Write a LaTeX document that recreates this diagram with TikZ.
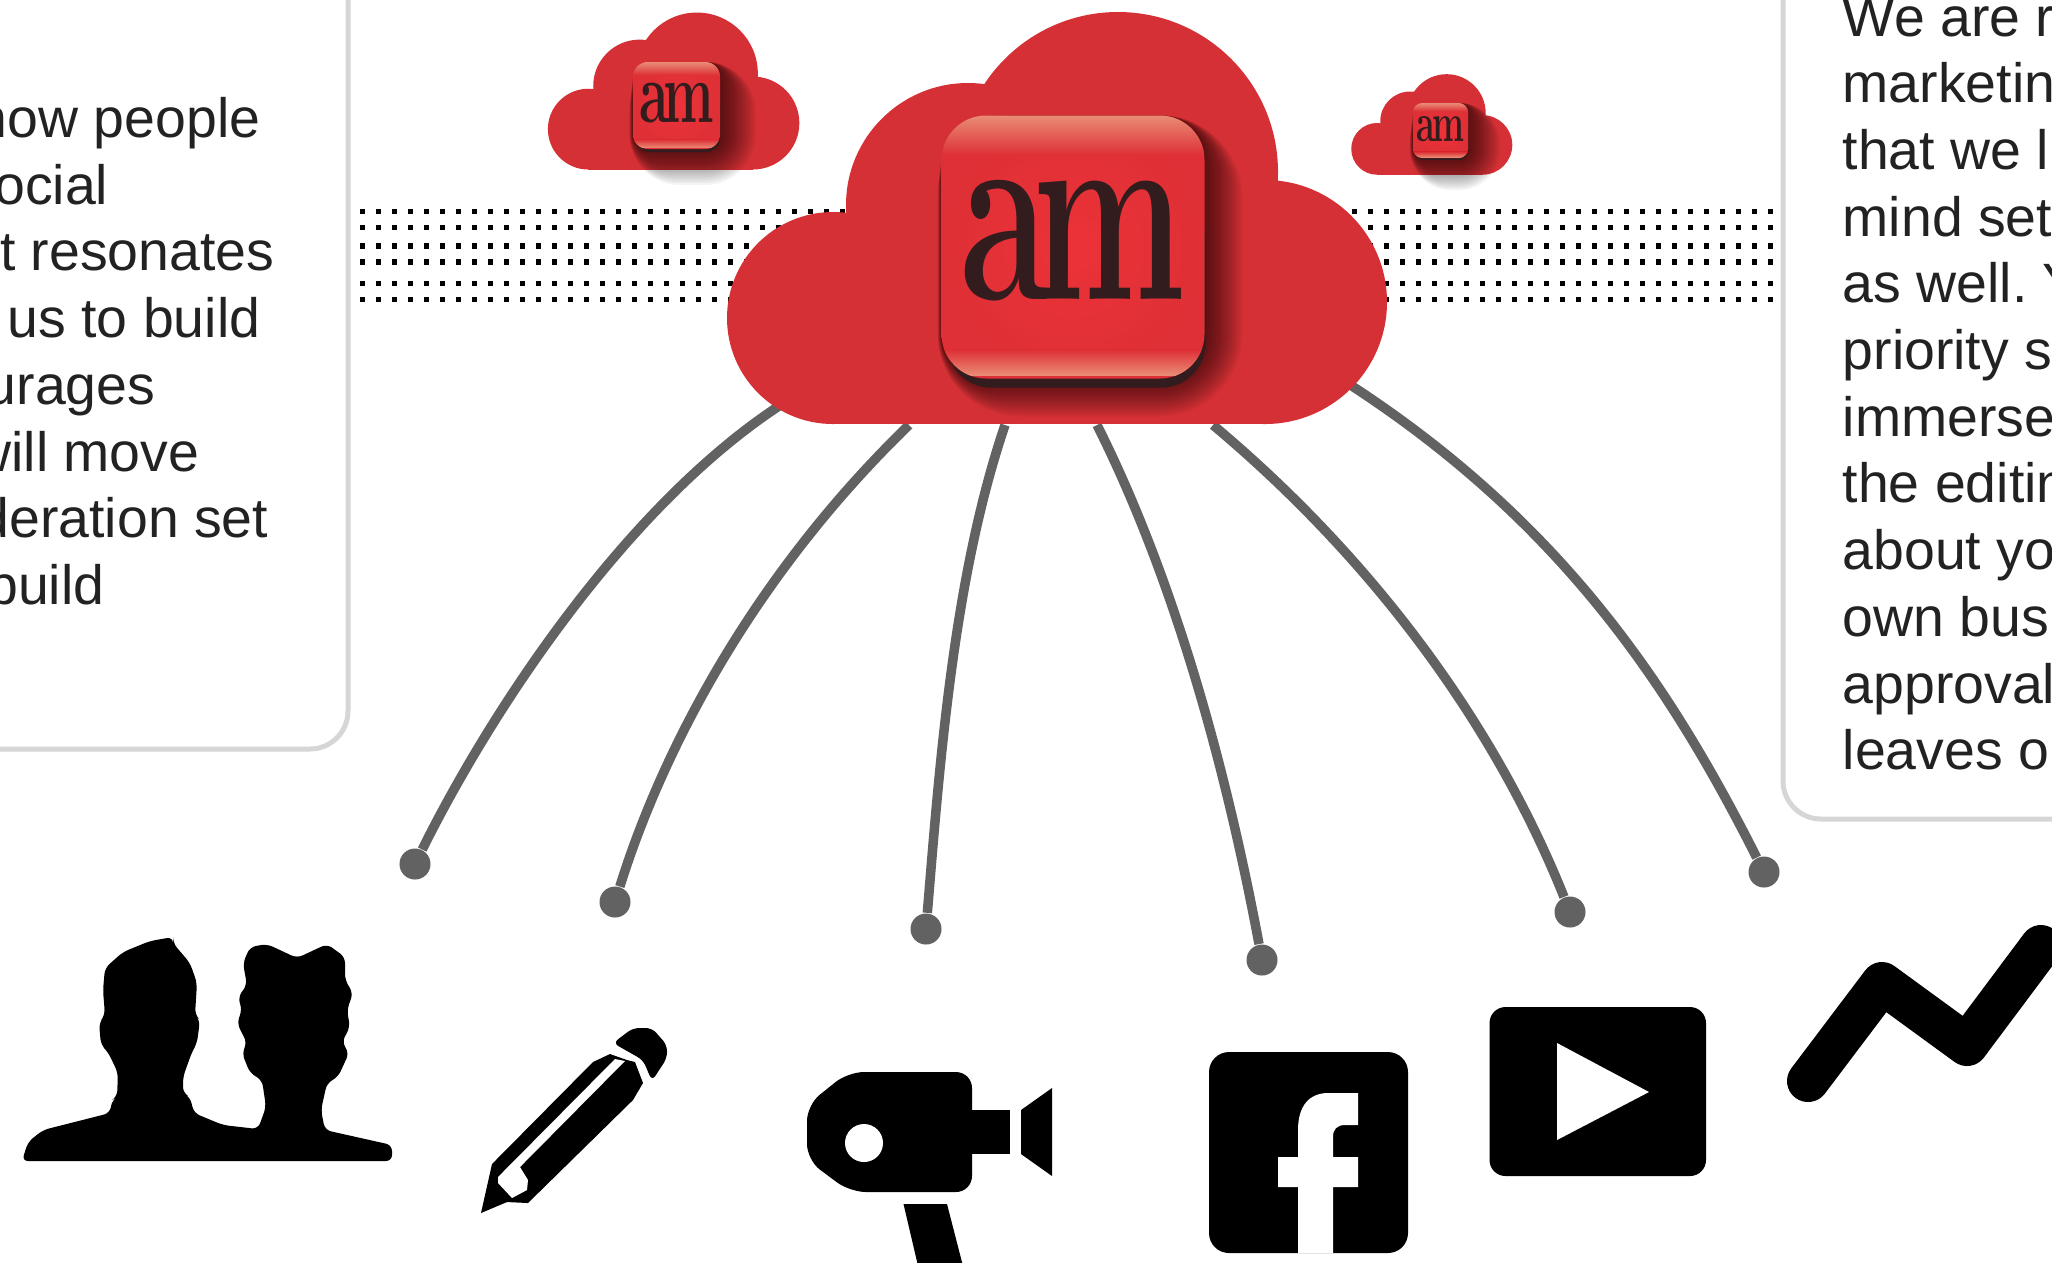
\documentclass[tikz,border=0pt]{standalone}
\usepackage{fontspec}
\setsansfont{Liberation Sans}
\definecolor{amred}{RGB}{213,48,53}
\definecolor{amface}{RGB}{222,48,54}
\definecolor{ambright}{RGB}{236,50,56}
\definecolor{amglow}{RGB}{233,140,118}
\definecolor{amdeep}{RGB}{50,28,30}
\definecolor{linkgrey}{RGB}{98,98,98}
\definecolor{panelgrey}{RGB}{214,214,214}
\definecolor{bodyink}{RGB}{34,34,34}
\tikzset{
  panelbox/.style={draw=panelgrey, line width=.05cm, rounded corners=.38cm},
  bodytext/.style={inner sep=0pt, text=bodyink, font=\frenchspacing\sffamily\fontsize{15.76}{18.98}\selectfont},
  griddot/.style={fill=black},
  link/.style={draw=linkgrey, line width=.095cm},
  enddot/.style={circle, fill=linkgrey, inner sep=0pt, minimum size=.31cm},
  iconfill/.style={fill=black, rounded corners=.06cm},
  pics/amcloud/.style={code={
    \fill[amred] (-225,-106) circle (106);
    \fill[amred] (-90,-219) circle (122);
    \fill[amred] (60,-252) circle (160);
    \fill[amred] (207,-122) circle (122);
    \fill[amred] (-225,-170) rectangle (207,0);
  }},
  pics/amicon/.style 2 args={code={
    \pgfmathsetmacro\amh{#1/2}
    \pgfmathsetmacro\amfs{.2845*#1}
    \pgfmathsetlengthmacro\amrad{.0017*#1*1cm}
    \foreach \k in {1,...,20}{
      \pgfmathsetmacro\amw{#2*(1-\k/20)}
      \pgfmathsetlengthmacro\amsr{\amrad+\amw*.01cm}
      \fill[black, opacity=.04, rounded corners=\amsr]
        ({-\amh-.1*\amw},{-\amh}) rectangle ({\amh+\amw},{\amh+\amw});
    }
    \fill[amdeep, rounded corners=\amrad]
      ({-\amh+.02*#1},{-\amh+.3*#1}) rectangle ({\amh+.004*#1},{\amh+.035*#1});
    \shade[inner color=ambright, outer color=amface, rounded corners=\amrad]
      (-\amh,-\amh) rectangle (\amh,\amh);
    \begin{scope}
      \clip[rounded corners=\amrad] (-\amh,-\amh) rectangle (\amh,\amh);
      \shade[top color=amglow, bottom color=amface]
        (-\amh,-\amh) rectangle ({\amh},{-\amh+.15*#1});
      \shade[top color=amface, bottom color=amglow]
        (-\amh,{\amh-.11*#1}) rectangle ({\amh},{\amh-.012*#1});
    \end{scope}
    \node[inner sep=0pt, anchor=base, text=amdeep, xscale=.62, transform shape,
      font=\rmfamily\bfseries\fontsize{\amfs}{\amfs}\selectfont] (label) at (0,{.2*#1}) {a\kern-.1em m};
  }}
}

\begin{document}
\begin{tikzpicture}[x=.01cm, y=-.01cm]
    \useasboundingbox (0,0) rectangle (2052,1262);
    \clip (0,0) rectangle (2052,1262);

    \draw[panelbox] (-80,-80) rectangle (348,749);
    \draw[panelbox] (1783,-80) rectangle (2130,819);
    \foreach \txt/\xend [count=\n] in {how people/261, ocial/109, t resonates/275, us to build/261,
        urages/156, will move/200, deration set/269, build/105}
      \node[bodytext, anchor=base east] (leftline\n) at ({\xend},{70.8+66.7*\n}) {\txt};
    \foreach \txt [count=\n] in {We are r, marketin, that we l, mind set, as well. Y, priority s,
        immerse, the editin, about yo, own bus, approval, leaves o}
      \node[bodytext, anchor=base west] (rightline\n) at (1842,{-30.7+66.7*\n}) {\txt};

    \foreach \col in {0,...,88}
      \foreach \row in {211.5,227.5,246,262,283.5,299.5}
        \fill[griddot] ({360+16*\col},{\row-2.7}) rectangle +(5.4,5.4);

    \node[enddot] (dot1) at (415,864) {};
    \node[enddot] (dot2) at (615,902) {};
    \node[enddot] (dot3) at (926,929) {};
    \node[enddot] (dot4) at (1262,960) {};
    \node[enddot] (dot5) at (1570,912) {};
    \node[enddot] (dot6) at (1764,872) {};
    \coordinate (root1) at (779,406);
    \coordinate (root2) at (909,425);
    \coordinate (root3) at (1005,425);
    \coordinate (root4) at (1097,425);
    \coordinate (root5) at (1213,425);
    \coordinate (root6) at (1352,386);
    \draw[link] (root1) .. controls (627,506) and (493,707) .. (dot1);
    \draw[link] (root2) .. controls (759,570) and (665,742) .. (dot2);
    \draw[link] (root3) .. controls (954,575) and (940,759) .. (dot3);
    \draw[link] (root4) .. controls (1180,590) and (1230,789) .. (dot4);
    \draw[link] (root5) .. controls (1380,565) and (1498,732) .. (dot5);
    \draw[link] (root6) .. controls (1565,525) and (1672,690) .. (dot6);

    \pic[scale=.381] (cloudleft) at (674,169.5) {amcloud};
    \pic[scale=.244] (cloudright) at (1432,174.7) {amcloud};
    \pic (cloudmain) at (1058,424) {amcloud};
    \pic (iconleft) at (676.5,105.5) {amicon={87}{38}};
    \pic (iconright) at (1440.5,130.5) {amicon={55}{34}};
    \pic (iconmain) at (1073,247) {amicon={263}{40}};

    \fill[iconfill] (22,1161) -- (28,1142) -- (43,1130) -- (110,1113) -- (112,1100) -- (117,1097)
      -- (118,1073) -- (108,1052) -- (101,1045) -- (99,1023) -- (105,1015) -- (103,990) -- (105,968)
      -- (123,952) -- (150,941) -- (173,937) -- (173,943) -- (190,963) -- (197,983) -- (195,1015)
      -- (200,1020) -- (197,1043) -- (192,1052) -- (183,1077) -- (183,1093) -- (190,1097) -- (194,1113)
      -- (223,1125) -- (258,1129) -- (266,1107) -- (262,1080) -- (250,1073) -- (242,1053) -- (247,1043)
      -- (237,1023) -- (242,1010) -- (238,997) -- (247,985) -- (243,963) -- (250,947) -- (267,944)
      -- (297,958) -- (327,944) -- (345,957) -- (345,980) -- (353,993) -- (347,1010) -- (350,1027)
      -- (342,1042) -- (349,1053) -- (338,1077) -- (327,1083) -- (321,1110) -- (325,1130) -- (392,1145)
      -- (392,1161) -- cycle;

    \fill[black] (481,1213) -- (492,1164) -- (593,1062) -- (610,1054) -- (627,1060) -- (635,1062)
      -- (643,1083) -- (633,1100) -- (528,1203) -- (507,1202) -- cycle;
    \fill[white] (498,1177) -- (615,1059) -- (625,1061) -- (520,1167) -- (528,1180) -- (527,1190)
      -- (512,1198) -- (498,1183) -- cycle;
    \fill[iconfill] (613,1043) -- (633,1028) -- (652,1028) -- (667,1045) -- (667,1058) -- (652,1081)
      -- (643,1060) -- cycle;

    \fill[black, rounded corners=.16cm] (807,1105) -- (848,1072) -- (972,1072) -- (972,1192)
      -- (850,1192) -- (807,1160) -- cycle;
    \fill[black] (965,1110) rectangle (1010,1154);
    \fill[white] (864,1143) circle (19);
    \fill[black] (1021,1110) -- (1052,1088) -- (1052,1176) -- (1021,1154) -- cycle;
    \fill[black] (903.5,1204) -- (947,1204) -- (964,1270) -- (919,1270) -- cycle;

    \fill[black, rounded corners=.2cm] (1209,1052) rectangle (1408,1253);
    \fill[white] (1298,1253) -- (1298,1187) -- (1278,1187) -- (1278,1157) -- (1298,1157) -- (1298,1130)
      .. controls (1298,1105) and (1310,1093) .. (1328,1093) -- (1358,1093) -- (1358,1125) -- (1345,1125)
      .. controls (1337,1125) and (1333,1129) .. (1333,1137) -- (1333,1157) -- (1358,1157) -- (1358,1187)
      -- (1333,1187) -- (1333,1253) -- cycle;

    \fill[black, rounded corners=.16cm] (1489.5,1007) rectangle (1706,1176);
    \fill[white] (1557,1043) -- (1649,1092) -- (1557,1140) -- cycle;

    \draw[line width=.42cm, line cap=round, line join=round]
      (1808,1081) -- (1882,983) -- (1967,1045) -- (2041,946);
\end{tikzpicture}
\end{document}
